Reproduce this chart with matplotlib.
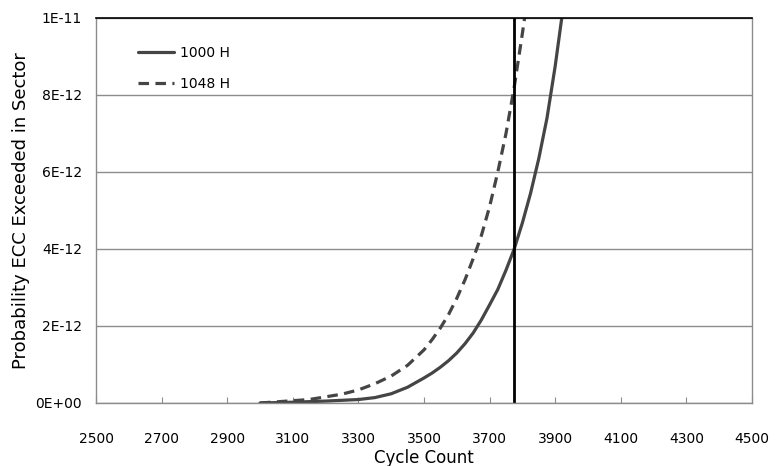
import matplotlib
matplotlib.use("Agg")
import matplotlib.pyplot as plt
from matplotlib.ticker import FixedLocator, FixedFormatter

# cycle counts and probabilities (units of 1E-12)
cycles_1000 = [3000, 3050, 3100, 3150, 3200, 3250, 3300, 3350, 3400, 3450, 3500,
               3525, 3550, 3575, 3600, 3625, 3650, 3675, 3700, 3725, 3750, 3775,
               3800, 3825, 3850, 3875, 3900, 3920]
prob_1000 = [0.0, 0.01, 0.02, 0.035, 0.05, 0.07, 0.09, 0.14, 0.24, 0.41, 0.65,
             0.78, 0.93, 1.1, 1.3, 1.54, 1.82, 2.16, 2.55, 2.95, 3.45, 4.0,
             4.68, 5.45, 6.35, 7.4, 8.75, 10.0]

cycles_1048 = [3000, 3050, 3100, 3150, 3200, 3250, 3300, 3350, 3400, 3450, 3500,
               3525, 3550, 3575, 3600, 3625, 3650, 3675, 3700, 3725, 3750, 3775,
               3800, 3810]
prob_1048 = [0.0, 0.03, 0.06, 0.09, 0.16, 0.23, 0.34, 0.5, 0.7, 0.98, 1.38,
             1.65, 1.95, 2.3, 2.72, 3.2, 3.75, 4.35, 5.1, 6.0, 7.0, 8.2,
             9.6, 10.2]

limit_cycle = 3775
series_names = ["1000 H", "1048 H"]

x_ticks = list(range(2500, 4501, 200))
y_ticks = [0, 2e-12, 4e-12, 6e-12, 8e-12, 1e-11]
y_labels = ["0E+00", "2E-12", "4E-12", "6E-12", "8E-12", "1E-11"]

plt.rcParams['font.family'] = ['DejaVu Sans']

fig = plt.figure(figsize=(7.82, 4.66), dpi=100)
ax = fig.add_axes([0.1228, 0.1352, 0.8388, 0.8262])

curve_color = "#454545"
ax.plot(cycles_1000, [v * 1e-12 for v in prob_1000], color=curve_color, lw=2.3,
        label=series_names[0], solid_capstyle="round", solid_joinstyle="round")
ax.plot(cycles_1048, [v * 1e-12 for v in prob_1048], color=curve_color, lw=2.3,
        ls=(0, (3.3, 2.0)), label=series_names[1])
ax.axvline(limit_cycle, color="black", lw=2)

ax.set_xlim(2500, 4500)
ax.set_ylim(0, 1e-11)
ax.xaxis.set_major_locator(FixedLocator(x_ticks))
ax.yaxis.set_major_locator(FixedLocator(y_ticks))
ax.yaxis.set_major_formatter(FixedFormatter(y_labels))

ax.grid(axis="y", color="#8c8c8c", lw=1)
ax.set_axisbelow(True)
ax.tick_params(axis="x", direction="in", length=4, color="#8c8c8c", pad=21, labelsize=10)
ax.tick_params(axis="y", length=0, pad=10, labelsize=10)

for side in ["left", "bottom", "right"]:
    ax.spines[side].set_color("#8c8c8c")
    ax.spines[side].set_linewidth(1)
ax.spines["top"].set_color("black")
ax.spines["top"].set_linewidth(1.2)

ax.set_xlabel("Cycle Count", fontsize=12, labelpad=2)
ax.set_ylabel("Probability ECC Exceeded in Sector", fontsize=13, labelpad=4)

ax.legend(loc="upper left", frameon=False, fontsize=10, handlelength=2.6,
          handletextpad=0.4, labelspacing=1.25, bbox_to_anchor=(0.045, 0.96))

fig.savefig("out.png", dpi=100)
